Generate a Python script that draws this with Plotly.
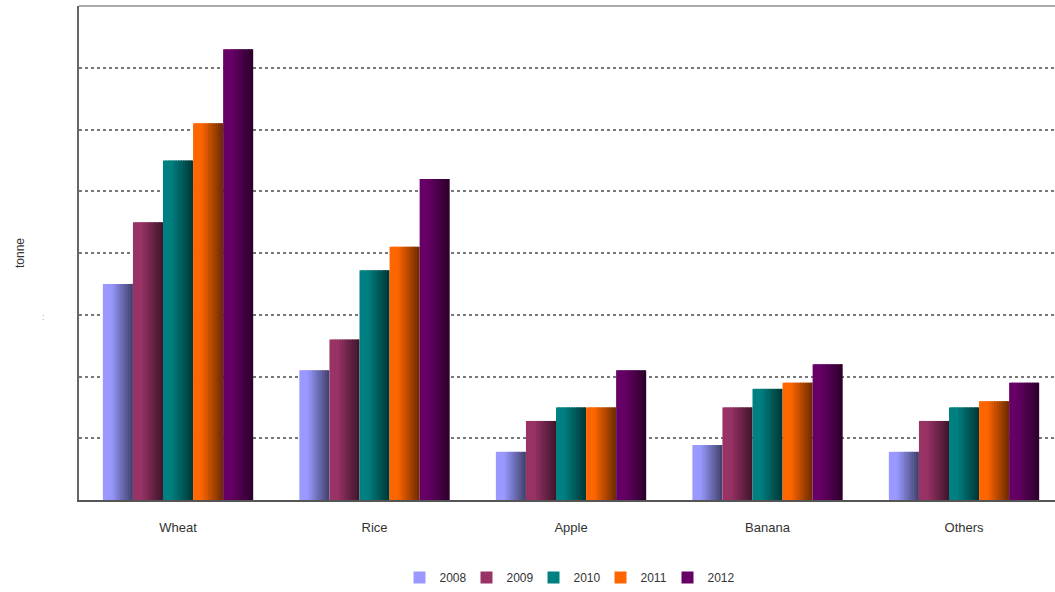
import plotly.graph_objects as go

categories = ["Wheat", "Rice", "Apple", "Banana", "Others"]
years = ["2008", "2009", "2010", "2011", "2012"]
v2008 = [3.5, 2.1, 0.78, 0.89, 0.78]
v2009 = [4.5, 2.6, 1.28, 1.5, 1.28]
v2010 = [5.5, 3.72, 1.5, 1.8, 1.5]
v2011 = [6.1, 4.1, 1.5, 1.9, 1.6]
v2012 = [7.3, 5.2, 2.1, 2.2, 1.9]
series = [v2008, v2009, v2010, v2011, v2012]
colors = [(153, 153, 255), (153, 51, 102), (0, 128, 128), (255, 102, 0), (102, 0, 102)]

fig = go.Figure()

bar_w = 0.153
n_slices = 12
slice_w = bar_w / n_slices
group_w = bar_w * len(years)
x_idx = list(range(len(categories)))

for i, (yr, vals, col) in enumerate(zip(years, series, colors)):
    for k in range(n_slices):
        t = k / (n_slices - 1)
        f = 1.0 if t < 0.25 else 1.0 - 0.55 * (t - 0.25) / 0.75
        c = "rgb(%d,%d,%d)" % tuple(int(ch * f) for ch in col)
        last = k == n_slices - 1
        fig.add_trace(go.Bar(
            x=x_idx, y=vals, name=yr, legendgroup=yr,
            showlegend=(k == 0),
            width=slice_w * (1.0 if last else 1.6),
            offset=-group_w / 2 + i * bar_w + k * slice_w,
            marker=dict(color=c, line=dict(width=0)),
            hoverinfo="skip" if k else None,
        ))

fig.update_layout(
    width=1055, height=592,
    barmode="overlay",
    paper_bgcolor="white", plot_bgcolor="white",
    margin=dict(l=79, r=0, t=6, b=92),
    font=dict(family="Liberation Sans, Arial, sans-serif", size=13, color="#333"),
    showlegend=True,
    legend=dict(orientation="h", x=0.5, xanchor="center", y=-0.158, yanchor="middle",
                font=dict(size=12, color="#333"), entrywidth=22, entrywidthmode="pixels",
                itemwidth=30, tracegroupgap=0, traceorder="normal"),
    xaxis=dict(
        tickmode="array", tickvals=x_idx, ticktext=categories,
        range=[-0.504, 4.463],
        showgrid=False, zeroline=False,
        showline=True, linecolor="#555", linewidth=2,
        ticks="", ticklabelstandoff=14, tickfont=dict(size=13, color="#333"),
    ),
    yaxis=dict(
        range=[0, 8], dtick=1, showticklabels=False,
        showgrid=True, gridcolor="#777", griddash="dot", gridwidth=2,
        zeroline=False, showline=True, linecolor="#666", linewidth=2,
        ticks="",
        title=dict(text="tonne", font=dict(size=12, color="#333"), standoff=50),
    ),
    shapes=[dict(type="line", xref="paper", yref="paper", x0=0, x1=1, y0=1, y1=1,
                 line=dict(color="#aaa", width=2))],
    annotations=[dict(text=":", xref="paper", yref="paper", x=-0.04, y=0.37,
                      showarrow=False, font=dict(size=9, color="#aaa"))],
)

fig.write_html("out.html", config={"displayModeBar": False},
               post_script="document.body.style.margin='0';document.body.style.overflow='hidden';")
